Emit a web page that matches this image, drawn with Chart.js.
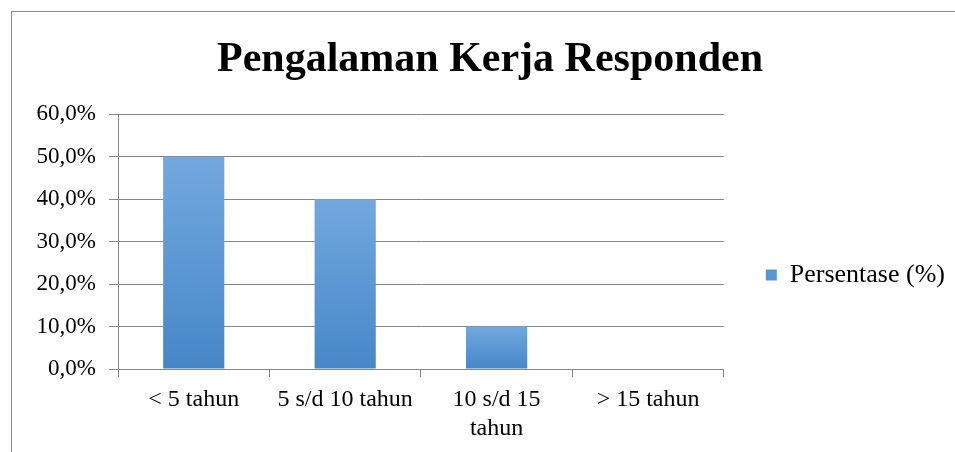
<!DOCTYPE html>
<html>
<head>
<meta charset="utf-8">
<title>Pengalaman Kerja Responden</title>
<script src="https://cdn.jsdelivr.net/npm/chart.js@4/dist/chart.umd.min.js"></script>
<style>
  html, body { margin: 0; padding: 0; background: #fff; overflow: hidden; }
  .wrap { position: relative; width: 955px; height: 452px; }
  canvas { display: block; }
  .frame {
    position: absolute; left: 11px; top: 11px; right: 0; bottom: 0;
    border-top: 1px solid #8e8e8e; border-left: 1px solid #8e8e8e;
    pointer-events: none;
  }
</style>
</head>
<body>
<div class="wrap">
  <canvas id="chart" width="955" height="452"></canvas>
  <div class="frame"></div>
</div>
<script>
"use strict";

// ---------- Data ----------
const categories = ["< 5 tahun", "5 s/d 10 tahun", ["10 s/d 15", "tahun"], "> 15 tahun"];
const persentase = [50, 40, 10, 0];
const seriesLabel = "Persentase (%)";
const chartTitle = "Pengalaman Kerja Responden";
const yTicks = { min: 0, max: 60, step: 10 };

const SERIF = "'Liberation Serif', 'Times New Roman', serif";
const GRID = "#868686";

// per-bar vertical gradient like the Office style fill
function barFill(ctx) {
  const chart = ctx.chart;
  if (ctx.type !== "data" || !chart.chartArea) return "#5b9bd5";
  const y = chart.scales.y;
  const top = y.getPixelForValue(ctx.parsed ? ctx.parsed.y : 0);
  const bottom = y.getPixelForValue(0);
  if (bottom - top < 1) return "#5b9bd5";
  const g = chart.ctx.createLinearGradient(0, top, 0, bottom);
  g.addColorStop(0, "#72a8de");
  g.addColorStop(1, "#4687c8");
  return g;
}

new Chart(document.getElementById("chart"), {
  type: "bar",
  data: {
    labels: categories,
    datasets: [{
      label: seriesLabel,
      data: persentase,
      backgroundColor: barFill,
      borderWidth: 0,
      categoryPercentage: 1,
      barPercentage: 0.404,
    }],
  },
  options: {
    responsive: false,
    animation: false,
    layout: { padding: { left: 25, right: 0, top: 0, bottom: 0 } },
    plugins: {
      title: {
        display: true,
        text: chartTitle,
        color: "#000",
        font: { family: SERIF, size: 42, weight: "bold", lineHeight: 1.2 },
        padding: { top: 35, bottom: 29 },
      },
      legend: {
        position: "right",
        // empty title only pushes the entry down to where the reference has it
        title: { display: true, text: "", font: { size: 10 }, padding: 43 },
        labels: {
          color: "#000",
          font: { family: SERIF, size: 26 },
          boxWidth: 11,
          boxHeight: 11,
          padding: 42,
        },
      },
      tooltip: { enabled: false },
    },
    scales: {
      x: {
        afterFit: (scale) => { scale.height = 83; },
        grid: { display: true, drawOnChartArea: false, color: GRID, tickLength: 8, offset: true },
        border: { color: GRID },
        ticks: {
          color: "#000",
          font: { family: SERIF, size: 24, lineHeight: 1.21 },
          padding: 8,
          maxRotation: 0,
          autoSkip: false,
        },
      },
      y: {
        min: yTicks.min,
        max: yTicks.max,
        afterFit: (scale) => { scale.width = 93; },
        grid: { color: GRID, tickLength: 9 },
        border: { color: GRID },
        ticks: {
          stepSize: yTicks.step,
          color: "#000",
          font: { family: SERIF, size: 23 },
          padding: 13,
          callback: (v) => v.toFixed(1).replace(".", ",") + "%",
        },
      },
    },
  },
});
</script>
</body>
</html>
